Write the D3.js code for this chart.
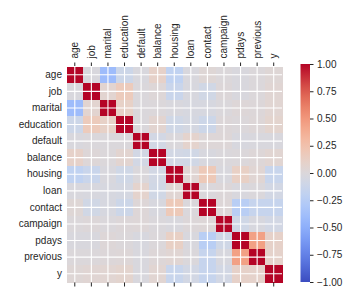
<!DOCTYPE html>
<html>
<head>
<meta charset="utf-8">
<script src="https://cdn.jsdelivr.net/npm/d3@7"></script>
<style>
  body { margin: 0; background: #fff; }
  text { font-family: "Liberation Sans", Arial, sans-serif; fill: #262626; }
</style>
</head>
<body>
<div class="chart"></div>
<script>
var svgWidth = 354;
var svgHeight = 295;

// variable names, same order on both axes
var labels = ["age", "job", "marital", "education", "default", "balance", "housing",
    "loan", "contact", "campaign", "pdays", "previous", "y"];

// correlation matrix rows
var corr = [
    [1.00, -0.02, -0.40, -0.11, -0.02, 0.10, -0.19, -0.02, 0.03, 0.00, -0.02, 0.00, 0.03],
    [-0.02, 1.00, 0.06, 0.17, -0.01, 0.02, -0.13, -0.03, -0.08, 0.01, -0.02, 0.00, 0.04],
    [-0.40, 0.06, 1.00, 0.11, -0.01, 0.00, -0.02, -0.04, -0.04, -0.01, 0.02, 0.01, 0.05],
    [-0.11, 0.17, 0.11, 1.00, -0.01, 0.06, -0.09, -0.05, -0.11, 0.01, 0.00, 0.02, 0.07],
    [-0.02, -0.01, -0.01, -0.01, 1.00, -0.07, -0.01, 0.08, 0.02, 0.02, -0.03, -0.02, -0.02],
    [0.10, 0.02, 0.00, 0.06, -0.07, 1.00, -0.07, -0.08, -0.03, -0.01, 0.00, 0.02, 0.05],
    [-0.19, -0.13, -0.02, -0.09, -0.01, -0.07, 1.00, 0.04, 0.19, -0.02, 0.12, 0.04, -0.14],
    [-0.02, -0.03, -0.04, -0.05, 0.08, -0.08, 0.04, 1.00, -0.01, 0.01, -0.02, -0.01, -0.07],
    [0.03, -0.08, -0.04, -0.11, 0.02, -0.03, 0.19, -0.01, 1.00, 0.02, -0.24, -0.15, -0.15],
    [0.00, 0.01, -0.01, 0.01, 0.02, -0.01, -0.02, 0.01, 0.02, 1.00, -0.09, -0.03, -0.07],
    [-0.02, -0.02, 0.02, 0.00, -0.03, 0.00, 0.12, -0.02, -0.24, -0.09, 1.00, 0.45, 0.10],
    [0.00, 0.00, 0.01, 0.02, -0.02, 0.02, 0.04, -0.01, -0.15, -0.03, 0.45, 1.00, 0.09],
    [0.03, 0.04, 0.05, 0.07, -0.02, 0.05, -0.14, -0.07, -0.15, -0.07, 0.10, 0.09, 1.00]
];

var cbarTicks = [-1, -0.75, -0.5, -0.25, 0, 0.25, 0.5, 0.75, 1];

// matplotlib coolwarm, sampled
var coolwarm = d3.interpolateRgbBasis([
    "rgb(59,76,192)", "rgb(98,130,234)", "rgb(141,176,254)", "rgb(184,208,249)",
    "rgb(221,221,221)", "rgb(245,196,173)", "rgb(244,154,123)", "rgb(222,96,77)",
    "rgb(180,4,38)"
]);
var color = d3.scaleSequential(coolwarm).domain([-1, 1]);

var hm = { left: 66.5, top: 66.5, size: 215.5 };

var svg = d3.select(".chart")
    .append("svg")
    .attr("width", svgWidth)
    .attr("height", svgHeight);

var x = d3.scaleBand()
    .domain(labels)
    .range([hm.left, hm.left + hm.size]);

var y = d3.scaleBand()
    .domain(labels)
    .range([hm.top, hm.top + hm.size]);

var cells = [];
corr.forEach(function (row, i) {
    row.forEach(function (v, j) {
        cells.push({ row: labels[i], col: labels[j], value: v });
    });
});

svg.append("g")
    .selectAll("rect")
    .data(cells)
    .enter()
    .append("rect")
    .attr("x", d => x(d.col))
    .attr("y", d => y(d.row))
    .attr("width", x.bandwidth() + 0.5)
    .attr("height", y.bandwidth() + 0.5)
    .attr("fill", d => color(d.value))
    .attr("shape-rendering", "crispEdges");

// white grid at the tick positions
var grid = svg.append("g")
    .attr("stroke", "#fff")
    .attr("stroke-width", 1.1);

labels.forEach(function (l) {
    var cx = x(l) + x.bandwidth() / 2;
    var cy = y(l) + y.bandwidth() / 2;
    grid.append("line")
        .attr("x1", cx).attr("x2", cx)
        .attr("y1", hm.top).attr("y2", hm.top + hm.size);
    grid.append("line")
        .attr("x1", hm.left).attr("x2", hm.left + hm.size)
        .attr("y1", cy).attr("y2", cy);
});

// top axis with rotated labels
var topAxis = svg.append("g")
    .attr("transform", `translate(0, ${hm.top - 0.5})`)
    .call(d3.axisTop(x).tickSize(3.5).tickPadding(3.5));

topAxis.selectAll("text")
    .attr("transform", "rotate(-90)")
    .attr("x", 7.5)
    .attr("y", 0)
    .attr("dy", "0.35em")
    .style("text-anchor", "start");

// bottom axis: ticks only
svg.append("g")
    .attr("transform", `translate(0, ${hm.top + hm.size + 0.5})`)
    .call(d3.axisBottom(x).tickSize(4).tickFormat(""));

// left axis: labels only
svg.append("g")
    .attr("transform", `translate(${hm.left}, 0)`)
    .call(d3.axisLeft(y).tickSize(0).tickPadding(4.5));

svg.selectAll(".domain").remove();
svg.selectAll(".tick line").attr("stroke", "#262626").attr("stroke-width", 1);
svg.selectAll(".tick text")
    .attr("font-size", 10)
    .attr("font-family", "'Liberation Sans', Arial, sans-serif")
    .attr("fill", "#262626");

// colorbar
var cb = { x: 300.5, y0: 64, y1: 282, w: 9.5 };

var defs = svg.append("defs");
var grad = defs.append("linearGradient")
    .attr("id", "cbar")
    .attr("x1", "0").attr("y1", "1")
    .attr("x2", "0").attr("y2", "0");

d3.range(0, 1.0001, 0.05).forEach(function (t) {
    grad.append("stop")
        .attr("offset", t)
        .attr("stop-color", coolwarm(t));
});

svg.append("rect")
    .attr("x", cb.x)
    .attr("y", cb.y0)
    .attr("width", cb.w)
    .attr("height", cb.y1 - cb.y0)
    .attr("fill", "url(#cbar)");

var cbScale = d3.scaleLinear()
    .domain([-1, 1])
    .range([cb.y1, cb.y0]);

var cbAxis = svg.append("g")
    .attr("transform", `translate(${cb.x + cb.w}, 0)`)
    .call(d3.axisRight(cbScale).tickValues(cbarTicks).tickFormat(d3.format(".2f"))
        .tickSize(3.5).tickPadding(3.5));

cbAxis.select(".domain").remove();
cbAxis.selectAll(".tick line").attr("stroke", "#262626");
cbAxis.selectAll("text")
    .attr("font-size", 10)
    .attr("font-family", "'Liberation Sans', Arial, sans-serif")
    .attr("fill", "#262626");
</script>
</body>
</html>
